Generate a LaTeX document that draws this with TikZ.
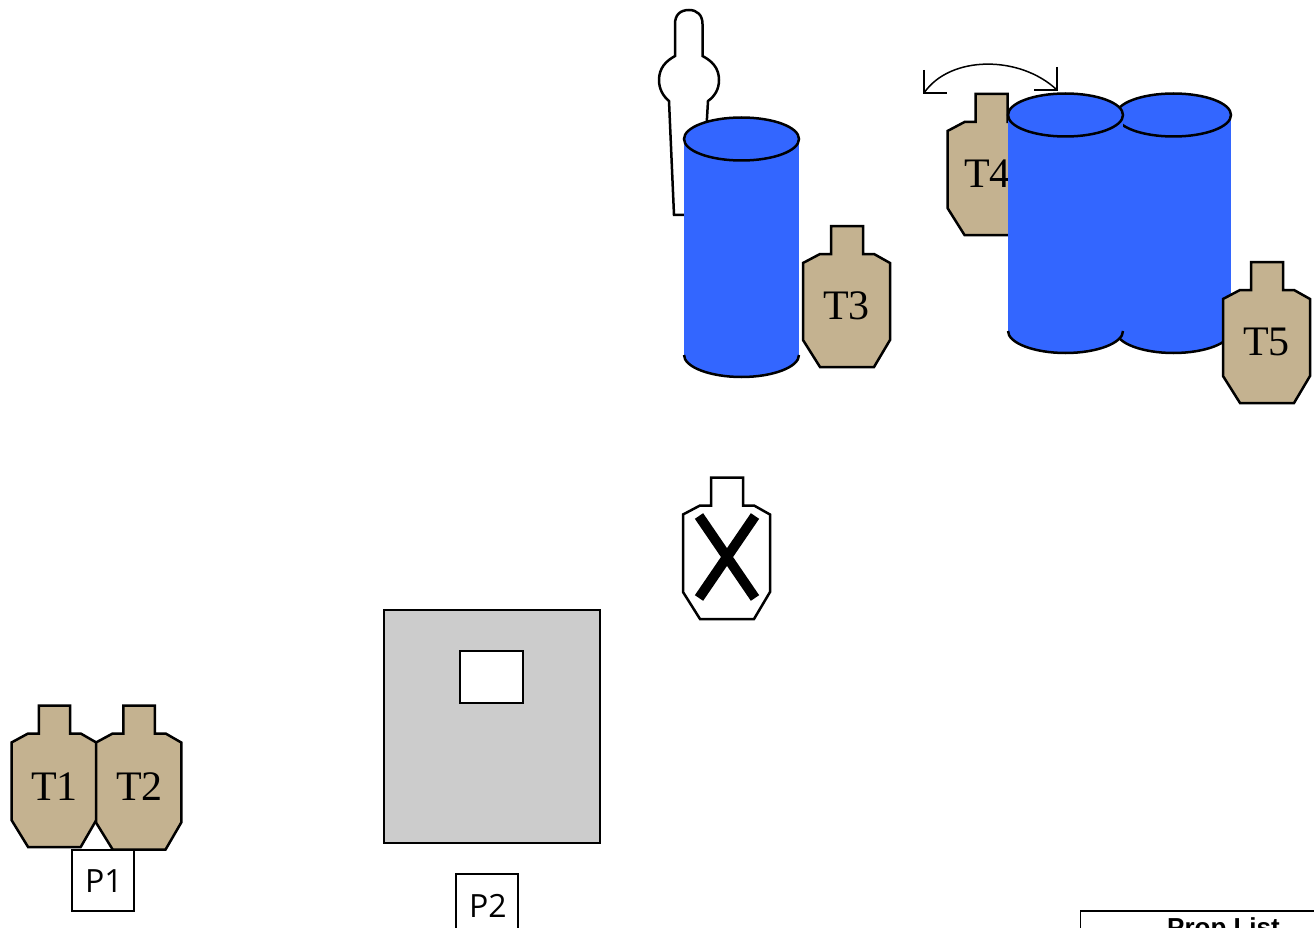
\documentclass[tikz,border=0pt]{standalone}
\usepackage{fontspec}
\setmainfont{Liberation Serif}
\newfontfamily\boxfont{Open Sans}
\newfontfamily\propfont{Liberation Sans}
\definecolor{tan}{HTML}{C4B290}
\definecolor{barrel}{HTML}{3366FF}
\definecolor{wall}{HTML}{CCCCCC}
\tikzset{
  x=1pt,y=-1pt,
  outline/.style={draw=black,line width=2.5pt,line join=miter},
  thin outline/.style={draw=black,line width=1.5pt},
  tlabel/.style={font=\fontsize{42}{42}\selectfont,inner sep=0pt,text=black},
  plabel/.style={font=\boxfont\fontsize{32}{32}\selectfont,inner sep=0pt,text=black},
}
% target: optional scale, x, y (top-left), height of the lower edge, fill
\newcommand{\tgtshape}[5][xscale=1]{%
  \draw[outline,fill=#5,shift={(#2,#3)},#1] (0,37) -- (17,28) -- (28,28) -- (28,0) -- (60,0) -- (60,28) -- (71,28) -- (87,37) -- (87,#4-27) -- (71,#4) -- (17,#4) -- (0,#4-27) -- cycle;}
% barrel: left x, right x, centre y of top, centre y of bottom
\newcommand{\barrelshape}[4]{%
  \fill[barrel] (#1,#3) rectangle (#2,#4);
  \fill[barrel] ({(#1+#2)/2},#4) ellipse [x radius={(#2-#1)/2},y radius=22];
  \draw[outline] (#1,#4) .. controls (#1,{#4+12}) and ({#1+26},{#4+22}) .. ({(#1+#2)/2},{#4+22}) .. controls ({#2-26},{#4+22}) and (#2,{#4+12}) .. (#2,#4);
  \draw[outline,fill=barrel] ({(#1+#2)/2},#3) ellipse [x radius={(#2-#1)/2},y radius=21.5];}
\begin{document}
\begin{tikzpicture}
\clip (0,0) rectangle (1314,928);
% person
\draw[outline,fill=white] (684,215) -- (674,215) -- (669,101) .. controls (663,96) and (659,89) .. (659,80) .. controls (659,68) and (666,61) .. (675,56) -- (675,24) .. controls (675,15) and (680,10) .. (689,10) .. controls (697,10) and (702.5,15) .. (702.5,24) -- (702.5,56) .. controls (712,61) and (719,68) .. (719,80) .. controls (719,89) and (715,96) .. (708,101) -- (706,135);
% barrel 1 and T3
\barrelshape{684}{799}{139}{355}
\tgtshape{803}{226}{141}{tan}
\node[tlabel] (t3) at (846.5,306) {T3};
% swing arc
\draw[black,line width=1.5pt] (924,70) -- (924,93) -- (947,93);
\draw[black,line width=1.5pt] (924,93) .. controls (950,55) and (1020,55) .. (1057,90);
\draw[black,line width=1.5pt] (1057,67) -- (1057,90) -- (1034,90);
% T4 behind barrels
\tgtshape{947.5}{94}{141}{tan}
\node[tlabel] (t4) at (987.5,174) {T4};
\barrelshape{1116}{1231}{115}{331}
\barrelshape{1008}{1123}{115}{331}
% T5
\tgtshape{1223}{262}{141}{tan}
\node[tlabel] (t5) at (1266.5,342) {T5};
% no-shoot
\tgtshape{683}{477.5}{141.5}{white}
\draw[black,line width=10pt] (699,516) -- (755,598);
\draw[black,line width=10pt] (755,516) -- (699,598);
% wall
\draw[outline,fill=wall] (384,610) rectangle (600,843);
\draw[thin outline,fill=white] (460,651) rectangle (523,703);
% T1 T2
\tgtshape[xscale=0.975]{11.5}{705.5}{141.5}{tan}
\node[tlabel] (t1) at (54.5,786.5) {T1};
\tgtshape[xscale=0.98]{96}{705.5}{144}{tan}
\node[tlabel] (t2) at (139.5,786.5) {T2};
% P boxes
\node[thin outline,fill=white,minimum width=62pt,minimum height=61pt,inner sep=0pt,anchor=north west] (p1box) at (71.25,849.25) {};
\node[plabel] (p1) at (104,881.5) {P1};
\node[thin outline,fill=white,minimum width=62pt,minimum height=70pt,inner sep=0pt,anchor=north west] (p2box) at (455.25,873.25) {};
\node[plabel] (p2) at (488,905.5) {P2};
% prop list
\draw[thin outline,fill=white] (1080.5,911) rectangle (1330,960);
\node[font=\propfont\bfseries\fontsize{26}{26}\selectfont,inner sep=0pt,anchor=base] (prop) at (1223.5,936) {Prop List};
\end{tikzpicture}
\end{document}
